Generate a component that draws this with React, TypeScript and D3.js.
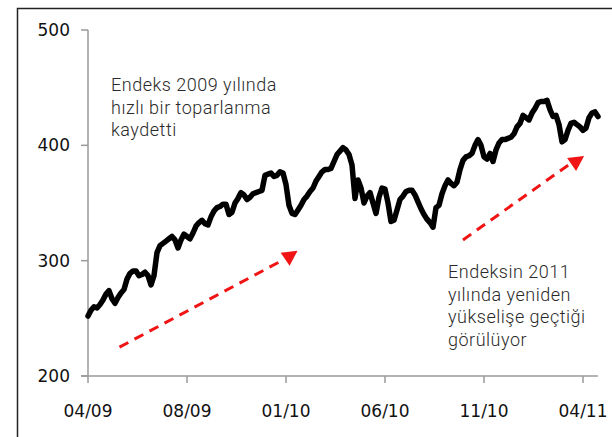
import React, { useEffect, useRef } from 'react';
import * as d3 from 'd3';

// index level, roughly weekly samples
const values = [
  252, 257, 260, 259, 262, 266, 271, 274, 267, 263,
  268, 272, 275, 284, 289, 291, 291, 287, 288, 290,
  287, 279, 287, 307, 313, 315, 317, 319, 321, 318,
  311, 318, 323, 321, 319, 324, 330, 333, 335, 332,
  331, 338, 343, 346, 347, 349, 349, 340, 342, 350,
  354, 359, 357, 353, 355, 358, 359, 360, 361, 374,
  375, 376, 373, 374, 377, 376, 366, 348, 341, 340,
  344, 348, 353, 356, 360, 363, 369, 373, 377, 379,
  379, 380, 386, 392, 395, 398, 396, 392, 383, 354,
  370, 363, 350, 356, 359, 350, 341, 355, 363, 362,
  350, 334, 335, 344, 353, 356, 360, 361, 361, 357,
  351, 345, 340, 336, 333, 329, 346, 348, 358, 365,
  370, 367, 365, 368, 379, 387, 390, 391, 393, 400,
  405, 400, 390, 388, 393, 386, 396, 402, 405, 405,
  406, 407, 410, 416, 419, 426, 424, 422, 428, 432,
  437, 438, 438, 439, 431, 425, 426, 418, 403, 405,
  413, 419, 420, 418, 416, 413, 415, 424, 428, 429,
  425,
];

const tickLabels = ['04/09', '08/09', '01/10', '06/10', '11/10', '04/11'];
const tickIndex = [0, 33, 66, 99, 132, 165];
const yTicks = [200, 300, 400, 500];

const noteTop = ['Endeks 2009 yılında', 'hızlı bir toparlanma', 'kaydetti'];
const noteBottom = ['Endeksin 2011', 'yılında yeniden', 'yükselişe geçtiği', 'görülüyor'];

// arrows in data units: [fromIndex, fromValue, toIndex, toValue, headIndex, headValue]
const arrows = [
  [10.5, 225, 65.3, 301, 67.2, 303.5],
  [125, 318, 160.7, 384, 162.7, 385.5],
];

export default function App() {
  const svgRef = useRef<SVGSVGElement>(null);
  const width = 612;
  const height = 437;

  useEffect(() => {
    if (!svgRef.current) return;
    const svg = d3.select(svgRef.current);
    svg.selectAll('*').remove();

    const x = d3.scaleLinear().domain([0, values.length - 1]).range([88, 598]);
    const y = d3.scaleLinear().domain([200, 500]).range([376, 30]);
    const axisColor = '#9a9a9a';

    // outer frame
    svg.append('rect')
      .attr('x', 17.5).attr('y', 8.5)
      .attr('width', 700).attr('height', 600)
      .attr('fill', 'none')
      .attr('stroke', '#222')
      .attr('stroke-width', 1.5);

    // y axis
    svg.append('line')
      .attr('x1', 88).attr('x2', 88)
      .attr('y1', y(500)).attr('y2', y(200))
      .attr('stroke', axisColor).attr('stroke-width', 1.5);
    svg.selectAll('line.ytick')
      .data(yTicks)
      .enter().append('line')
      .attr('class', 'ytick')
      .attr('x1', 81).attr('x2', 88)
      .attr('y1', d => y(d)).attr('y2', d => y(d))
      .attr('stroke', axisColor).attr('stroke-width', 1.5);
    svg.selectAll('text.ylab')
      .data(yTicks)
      .enter().append('text')
      .attr('class', 'ylab')
      .attr('x', 70)
      .attr('y', d => y(d))
      .attr('dy', '0.36em')
      .attr('text-anchor', 'end')
      .attr('font-family', 'DejaVu Sans')
      .attr('font-size', 17)
      .attr('fill', '#111')
      .text(d => d);

    // x axis
    svg.append('line')
      .attr('x1', 81).attr('x2', 598)
      .attr('y1', 376).attr('y2', 376)
      .attr('stroke', axisColor).attr('stroke-width', 1.5);
    svg.selectAll('line.xtick')
      .data(tickIndex)
      .enter().append('line')
      .attr('class', 'xtick')
      .attr('x1', d => x(d)).attr('x2', d => x(d))
      .attr('y1', 376).attr('y2', 383)
      .attr('stroke', axisColor).attr('stroke-width', 1.5);
    svg.selectAll('text.xlab')
      .data(tickIndex)
      .enter().append('text')
      .attr('class', 'xlab')
      .attr('x', d => x(d))
      .attr('y', 417)
      .attr('text-anchor', 'middle')
      .attr('font-family', 'DejaVu Sans')
      .attr('font-size', 17)
      .attr('fill', '#111')
      .text((d, i) => tickLabels[i]);

    // price line
    const line = d3.line<number>()
      .x((d, i) => x(i))
      .y(d => y(d));
    svg.append('path')
      .datum(values)
      .attr('d', line)
      .attr('fill', 'none')
      .attr('stroke', '#000')
      .attr('stroke-width', 5.5)
      .attr('stroke-linejoin', 'round')
      .attr('stroke-linecap', 'round');

    // red dashed arrows
    arrows.forEach(a => {
      svg.append('line')
        .attr('x1', x(a[0])).attr('y1', y(a[1]))
        .attr('x2', x(a[2])).attr('y2', y(a[3]))
        .attr('stroke', '#f01414')
        .attr('stroke-width', 3)
        .attr('stroke-dasharray', '10,7');
      const hx = x(a[4]);
      const hy = y(a[5]);
      svg.append('path')
        .attr('d', `M${hx - 9},${hy - 4}L${hx + 8},${hy - 6}L${hx},${hy + 9}Z`)
        .attr('fill', '#f01414');
    });

    // annotations
    const note = (lines: string[], left: number, top: number) => {
      const t = svg.append('text')
        .attr('font-family', 'Roboto')
        .attr('font-weight', 300)
        .attr('font-size', 18)
        .attr('letter-spacing', 0.5)
        .attr('fill', '#2a2a2a');
      lines.forEach((s, i) => {
        t.append('tspan').attr('x', left).attr('y', top + i * 22.7).text(s);
      });
    };
    note(noteTop, 111, 91);
    note(noteBottom, 448, 278);
  }, []);

  return (
    <svg
      ref={svgRef}
      width={width}
      height={height}
      style={{ position: 'fixed', left: 0, top: 0, background: '#fff' }}
    />
  );
}
